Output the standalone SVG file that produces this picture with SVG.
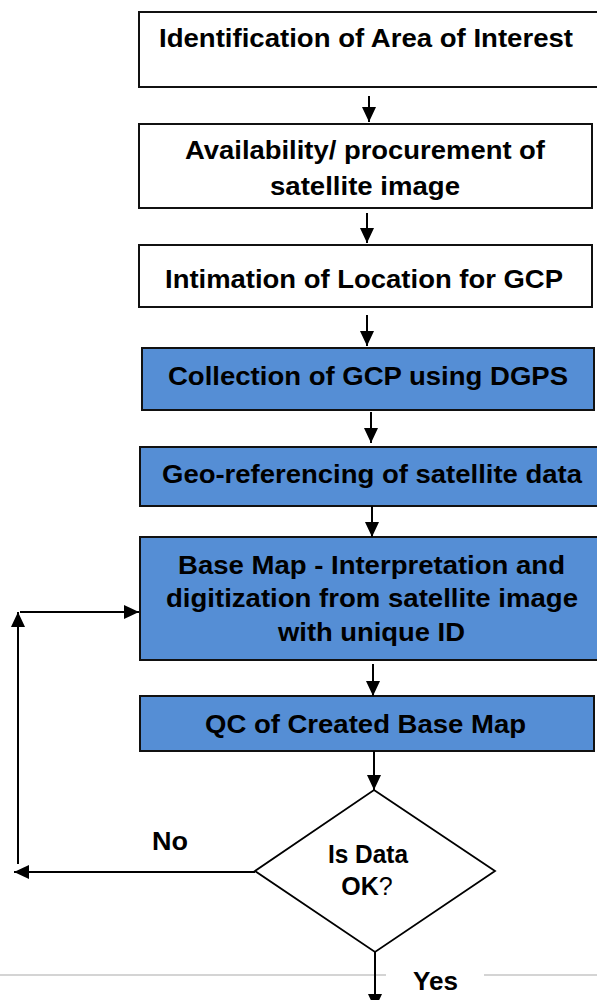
<svg xmlns="http://www.w3.org/2000/svg" width="597" height="1000" viewBox="0 0 597 1000">
<style>
.box{stroke:#111;stroke-width:2}
.w{fill:#fff}
.b{fill:#558ED5}
.t{font-family:"Liberation Sans",Arial,sans-serif;font-weight:bold;font-size:25px;fill:#000;text-anchor:middle}
.c{stroke:#000;stroke-width:2;fill:none;marker-end:url(#ah)}
</style>
<defs>
<marker id="ah" markerUnits="userSpaceOnUse" markerWidth="15" markerHeight="14" refX="15" refY="7" orient="auto">
<path d="M0,0 L15,7 L0,14 z" fill="#000"/>
</marker>
</defs>
<rect width="597" height="1000" fill="#fff"/>
<g id="sep">
<line x1="0" y1="975" x2="386" y2="975" stroke="#d4d4d4" stroke-width="2"/>
<line x1="484" y1="975" x2="597" y2="975" stroke="#d4d4d4" stroke-width="2"/>
</g>
<g id="n1">
<rect class="box w" x="139" y="12" width="470" height="75"/>
<text class="t" x="366" y="47" textLength="414" lengthAdjust="spacingAndGlyphs">Identification of Area of Interest</text>
</g>
<g id="n2">
<rect class="box w" x="139" y="124" width="453" height="84"/>
<text class="t" x="365" y="159" textLength="360" lengthAdjust="spacingAndGlyphs">Availability/ procurement of</text>
<text class="t" x="365" y="195" textLength="190" lengthAdjust="spacingAndGlyphs">satellite image</text>
</g>
<g id="n3">
<rect class="box w" x="139" y="245" width="453" height="62"/>
<text class="t" x="364" y="288" textLength="398" lengthAdjust="spacingAndGlyphs">Intimation of Location for GCP</text>
</g>
<g id="n4">
<rect class="box b" x="142" y="348" width="452" height="62"/>
<text class="t" x="368" y="385" textLength="400" lengthAdjust="spacingAndGlyphs">Collection of GCP using DGPS</text>
</g>
<g id="n5">
<rect class="box b" x="140" y="447" width="470" height="59"/>
<text class="t" x="372" y="483" textLength="420" lengthAdjust="spacingAndGlyphs">Geo-referencing of satellite data</text>
</g>
<g id="n6">
<rect class="box b" x="140" y="537" width="470" height="123"/>
<text class="t" x="371.5" y="574" textLength="387" lengthAdjust="spacingAndGlyphs">Base Map - Interpretation and</text>
<text class="t" x="372" y="607" textLength="412" lengthAdjust="spacingAndGlyphs">digitization from satellite image</text>
<text class="t" x="371.5" y="641" textLength="187" lengthAdjust="spacingAndGlyphs">with unique ID</text>
</g>
<g id="n7">
<rect class="box b" x="140" y="696" width="454" height="55"/>
<text class="t" x="365.5" y="733" textLength="321" lengthAdjust="spacingAndGlyphs">QC of Created Base Map</text>
</g>
<g id="n8">
<polygon points="374,790 495,871 375,952 255,871" fill="#fff" stroke="#000" stroke-width="1.8"/>
<text class="t" x="368" y="863" font-size="24" textLength="80" lengthAdjust="spacingAndGlyphs">Is Data</text>
<text class="t" x="367" y="895" font-size="24">OK<tspan font-weight="normal">?</tspan></text>
</g>
<g id="connectors">
<line class="c" x1="369" y1="96" x2="369" y2="122"/>
<line class="c" x1="367" y1="213" x2="367" y2="243"/>
<line class="c" x1="367" y1="315" x2="367" y2="346"/>
<line class="c" x1="371" y1="412" x2="371" y2="443"/>
<line class="c" x1="372" y1="506" x2="372" y2="537"/>
<line class="c" x1="373" y1="664" x2="373" y2="696"/>
<line class="c" x1="374" y1="751" x2="374" y2="790"/>
<line class="c" x1="255" y1="872" x2="14" y2="872"/>
<line class="c" x1="18" y1="864" x2="18" y2="612"/>
<line class="c" x1="20" y1="612" x2="139" y2="612"/>
<line class="c" x1="375" y1="952" x2="375" y2="1009"/>
<text class="t" x="170" y="850" textLength="36" lengthAdjust="spacingAndGlyphs">No</text>
<text class="t" x="435.5" y="990" textLength="45" lengthAdjust="spacingAndGlyphs">Yes</text>
</g>
</svg>
